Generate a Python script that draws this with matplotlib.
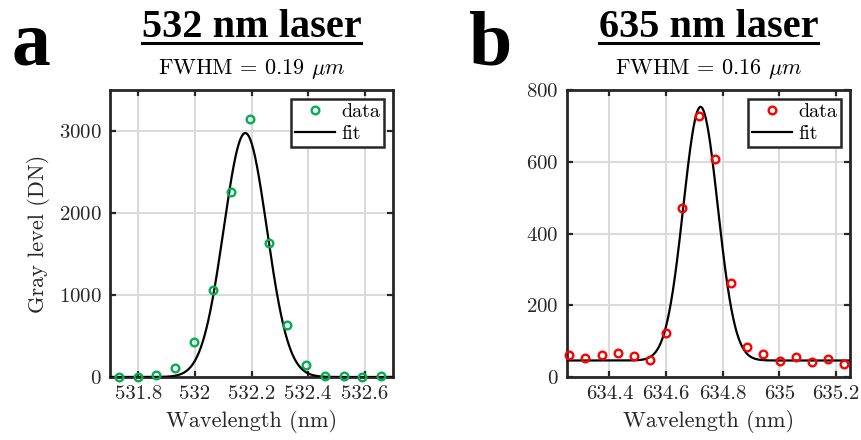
import numpy as np
import matplotlib
matplotlib.use("Agg")
import matplotlib.pyplot as plt
from matplotlib.lines import Line2D
from matplotlib.ticker import FormatStrFormatter

plt.rcParams['font.family'] = 'serif'
plt.rcParams['font.serif'] = ['cmr10', 'DejaVu Serif']
plt.rcParams['mathtext.fontset'] = 'cm'
plt.rcParams['axes.formatter.use_mathtext'] = True

# 532 nm laser: measured points and gaussian fit parameters
wl_532 = [531.732, 531.798, 531.864, 531.930, 531.997, 532.063, 532.129, 532.195,
          532.261, 532.327, 532.394, 532.460, 532.526, 532.592, 532.658]
gray_532 = [2, 0, 25, 107, 428, 1062, 2255, 3148, 1630, 630, 148, 16, 16, 0, 16]
fit_532 = dict(peak=2975, center=532.178, fwhm=0.18, base=0)

# 635 nm laser
wl_635 = [634.258, 634.315, 634.372, 634.430, 634.487, 634.544, 634.601, 634.658,
          634.715, 634.772, 634.829, 634.887, 634.944, 635.001, 635.058, 635.115,
          635.172, 635.230]
gray_635 = [60, 54, 61, 68, 58, 46, 123, 472, 728, 607, 262, 85, 64, 44, 56, 42, 50, 36]
fit_635 = dict(peak=707, center=634.722, fwhm=0.1435, base=46)

panels = [
    dict(wl=wl_532, gray=gray_532, fit=fit_532, color='#00b050', letter='a',
         title='532 nm laser', fwhm_txt='FWHM = 0.19 $\\mu m$',
         xlim=(531.7, 532.7), ylim=(0, 3500),
         xticks=[531.8, 532, 532.2, 532.4, 532.6], yticks=[0, 1000, 2000, 3000]),
    dict(wl=wl_635, gray=gray_635, fit=fit_635, color='#ff0000', letter='b',
         title='635 nm laser', fwhm_txt='FWHM = 0.16 $\\mu m$',
         xlim=(634.25, 635.25), ylim=(0, 800),
         xticks=[634.4, 634.6, 634.8, 635, 635.2], yticks=[0, 200, 400, 600, 800]),
]

W, H = 862, 440
fig = plt.figure(figsize=(W / 100, H / 100), dpi=100)
ax_left_px = [110, 567]
ax_w, ax_top, ax_bot = 283, 90, 377

titles = []
for p, lx in zip(panels, ax_left_px):
    ax = fig.add_axes([lx / W, 1 - ax_bot / H, ax_w / W, (ax_bot - ax_top) / H])
    f = p['fit']
    sig = f['fwhm'] / (2 * np.sqrt(2 * np.log(2)))
    xf = np.linspace(p['xlim'][0], p['xlim'][1], 600)
    yf = f['base'] + f['peak'] * np.exp(-(xf - f['center']) ** 2 / (2 * sig ** 2))
    ax.plot(p['wl'], p['gray'], 'o', mfc='none', mec=p['color'], ms=5.5, mew=1.7,
            label='data', clip_on=False, zorder=4)
    ax.plot(xf, yf, '-k', lw=1.6, label='fit', zorder=3)
    ax.set_xlim(*p['xlim'])
    ax.set_ylim(*p['ylim'])
    ax.set_xticks(p['xticks'])
    ax.set_yticks(p['yticks'])
    ax.xaxis.set_major_formatter(FormatStrFormatter('%g'))
    ax.grid(True, color='#dadada', lw=1.4)
    ax.set_axisbelow(True)
    ax.tick_params(direction='in', length=4, width=1.6, top=True, right=True,
                   labelsize=15, pad=6, colors='#262626')
    for s in ax.spines.values():
        s.set_linewidth(2.0)
        s.set_color('#262626')
    ax.set_xlabel('Wavelength (nm)', fontsize=16, labelpad=5, color='#262626')
    if p['letter'] == 'a':
        ax.set_ylabel('Gray level (DN)', fontsize=16, labelpad=6, color='#262626')
    leg = ax.legend(loc='upper right', fontsize=14.5, borderaxespad=0.45,
                    fancybox=False, handlelength=2.0, handletextpad=0.3,
                    borderpad=0.2, labelspacing=0.2, framealpha=1)
    leg.get_frame().set_edgecolor('#262626')
    leg.get_frame().set_linewidth(1.8)

    cx = (lx + ax_w / 2) / W
    t = fig.text(cx, 1 - 37 / H, p['title'], ha='center', va='baseline',
                 fontsize=29, fontweight='bold', family='Liberation Serif')
    titles.append(t)
    fig.text(cx, 1 - 74 / H, p['fwhm_txt'], ha='center', va='baseline', fontsize=16)
    fig.text((lx - 98) / W, 1 - 64 / H, p['letter'], ha='left', va='baseline',
             fontsize=56, fontweight='bold', family='Liberation Serif')

# underline the bold titles
fig.canvas.draw()
r = fig.canvas.get_renderer()
for t in titles:
    bb = t.get_window_extent(renderer=r)
    y = 1 - 43 / H
    fig.add_artist(Line2D([bb.x0 / W, bb.x1 / W], [y, y], color='k', lw=2.2))

fig.savefig('out.png', dpi=100)
